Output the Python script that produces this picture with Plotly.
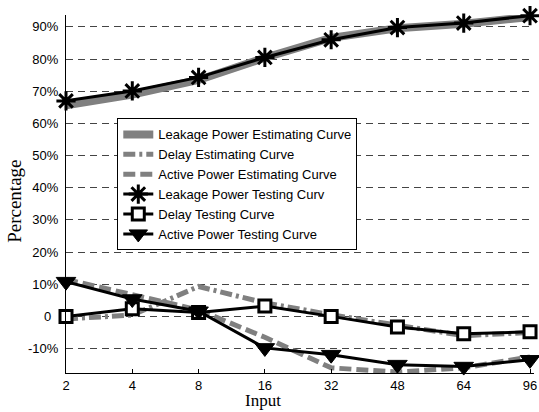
import plotly.graph_objects as go

inputs = ["2", "4", "8", "16", "32", "48", "64", "96"]

leak_est = [65.6, 69.0, 73.5, 80.4, 86.6, 89.6, 91.0, 93.1]
delay_est = [-0.8, 0.4, 9.3, 4.2, 0.5, -2.8, -6.0, -5.0]
active_est = [11.5, 6.8, 2.0, -6.5, -16.0, -17.3, -16.0, -12.6]

leak_test = [67.0, 70.1, 74.3, 80.5, 86.0, 89.8, 91.2, 93.5]
delay_test = [0.0, 2.4, 1.2, 3.2, 0.0, -3.3, -5.4, -4.8]
active_test = [10.8, 5.4, 1.6, -9.8, -11.9, -15.0, -15.6, -13.5]

ytick_vals = [-10.0, 0.0, 10.0, 20.0, 30.0, 40.0, 50.0, 60.0, 70.0, 80.0, 90.0]
ytick_text = ["-10%", "0\u00a0\u00a0", "10%", "20%", "30%", "40%", "50%", "60%", "70%", "80%", "90%"]

x_title = "Input"
y_title = "Percentage"

GRAY = "#808080"
SERIF = "Liberation Serif, Times New Roman, serif"
SANS = "Liberation Sans, Arial, sans-serif"

fig = go.Figure()

fig.add_trace(go.Scatter(x=inputs, y=leak_est, mode="lines",
                         name="Leakage Power Estimating Curve",
                         line=dict(color=GRAY, width=8)))
fig.add_trace(go.Scatter(x=inputs, y=delay_est, mode="lines",
                         name="Delay Estimating Curve",
                         line=dict(color=GRAY, width=5, dash="12px,4px,3px,4px")))
fig.add_trace(go.Scatter(x=inputs, y=active_est, mode="lines",
                         name="Active Power Estimating Curve",
                         line=dict(color=GRAY, width=5, dash="12px,5px")))

fig.add_trace(go.Scatter(x=inputs, y=leak_test, mode="lines+markers",
                         name="Leakage Power Testing Curv",
                         line=dict(color="black", width=3),
                         marker=dict(symbol="asterisk-open", size=16,
                                     line=dict(color="black", width=3)),
                         cliponaxis=False))
fig.add_trace(go.Scatter(x=inputs, y=delay_test, mode="lines+markers",
                         name="Delay Testing Curve",
                         line=dict(color="black", width=3),
                         marker=dict(symbol="square", size=12, color="white",
                                     line=dict(color="black", width=3)),
                         cliponaxis=False))
fig.add_trace(go.Scatter(x=inputs, y=active_test, mode="lines+markers",
                         name="Active Power Testing Curve",
                         line=dict(color="black", width=3),
                         marker=dict(symbol="triangle-down", size=17, color="black",
                                     line=dict(color="black", width=1)),
                         cliponaxis=False))

fig.update_layout(
    width=539, height=412,
    margin=dict(l=66, r=5, t=15, b=38.5),
    paper_bgcolor="white", plot_bgcolor="white",
    font=dict(family=SANS, size=13, color="black"),
    showlegend=True,
    hovermode=False,
    legend=dict(x=0.1096, y=0.711, xanchor="left", yanchor="top",
                bgcolor="white", bordercolor="black", borderwidth=1,
                font=dict(family=SANS, size=13, color="black"),
                tracegroupgap=0),
    xaxis=dict(type="category", range=[0, 7.06], showgrid=False, automargin=False,
               showline=True, linecolor="black", linewidth=1,
               ticks="inside", ticklen=4, tickcolor="black",
               tickfont=dict(size=13), ticklabelstandoff=0),
    yaxis=dict(range=[-17.6, 93.7], tickmode="array", tickvals=ytick_vals, ticktext=ytick_text,
               automargin=False,
               showgrid=True, gridcolor="#444444", gridwidth=1, griddash="7px,5px",
               zeroline=False, showline=True, linecolor="black", linewidth=1,
               ticks="", tickfont=dict(size=13), ticklabelstandoff=4),
    annotations=[
        dict(text=x_title, xref="paper", yref="paper", x=0.421, y=-0.077,
             xanchor="center", yanchor="middle", showarrow=False,
             font=dict(family=SERIF, size=17, color="black")),
        dict(text=y_title, xref="paper", yref="paper", x=-0.1118, y=0.48,
             xanchor="center", yanchor="middle", textangle=-90, showarrow=False,
             font=dict(family=SERIF, size=19, color="black")),
    ],
)

fig.write_html("out.html", config={"displayModeBar": False, "staticPlot": True},
               post_script="document.body.style.margin='0';")
